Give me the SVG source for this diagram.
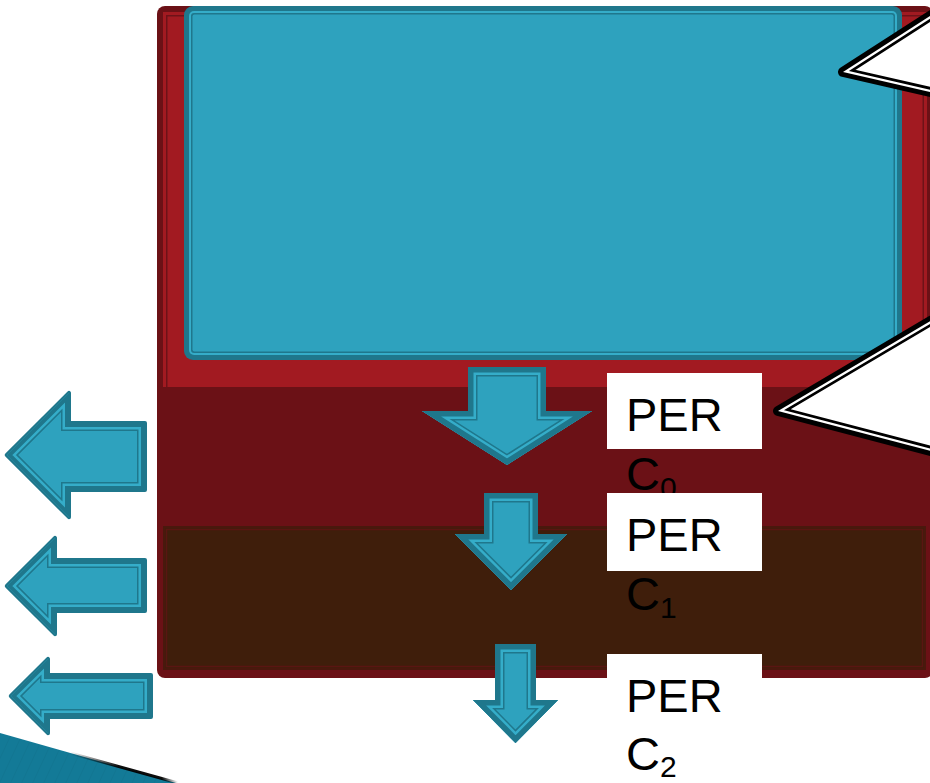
<svg xmlns="http://www.w3.org/2000/svg" xmlns:xlink="http://www.w3.org/1999/xlink" width="930" height="783" viewBox="0 0 930 783">
  <style>
    .lbl { fill: #ffffff; }
    .txt { font-family: "Liberation Sans", Arial, sans-serif; font-size: 47px; fill: #000000; }
    .sub { font-size: 30px; }
    .afill { fill: #2EA2BE; }
    .bandA { fill: none; stroke: #1F778C; stroke-linejoin: miter; }
    .bandL { fill: none; stroke: #35ADC9; stroke-linejoin: miter; }
    .edge { fill: #1F778C; stroke: #1F778C; stroke-width: 4; stroke-linejoin: round; }
    .callout { fill: #ffffff; stroke: #000000; stroke-width: 10; stroke-linejoin: round; }
    .calloutIn { fill: none; stroke: #ffffff; stroke-width: 4.5; stroke-linejoin: round; }
  </style>
  <defs>
    <!-- arrow outlines -->
    <path id="dn1" d="M468,367 L546,367 L546,411 L592,411 L507,465 L422,411 L468,411 Z"/>
    <path id="dn2" d="M484,493 L538,493 L538,534 L567,534 L511,590 L455,534 L484,534 Z"/>
    <path id="dn3" d="M495,644 L536,644 L536,700 L558,700 L515.5,743 L473,700 L495,700 Z"/>
    <path id="lf1" d="M6.8,455 L69,392.8 L69,423 L145,423 L145,490 L69,490 L69,517.2 Z"/>
    <path id="lf2" d="M6.8,586 L55,537.8 L55,560 L145,560 L145,611 L55,611 L55,634.2 Z"/>
    <path id="lf3" d="M10.8,696 L48,658.8 L48,675 L151,675 L151,717 L48,717 L48,733.2 Z"/>
    <!-- callout outlines -->
    <path id="co1" d="M843,72 L1000,-29 L1000,108 Z"/>
    <path id="co2" d="M778,411 L1000,280 L1000,469 Z"/>
    <clipPath id="cdn1"><use xlink:href="#dn1"/></clipPath>
    <clipPath id="cdn2"><use xlink:href="#dn2"/></clipPath>
    <clipPath id="cdn3"><use xlink:href="#dn3"/></clipPath>
    <clipPath id="clf1"><use xlink:href="#lf1"/></clipPath>
    <clipPath id="clf2"><use xlink:href="#lf2"/></clipPath>
    <clipPath id="clf3"><use xlink:href="#lf3"/></clipPath>
    <clipPath id="cco1"><use xlink:href="#co1"/></clipPath>
    <clipPath id="cco2"><use xlink:href="#co2"/></clipPath>
    <linearGradient id="tealGrad" x1="0" y1="0" x2="1" y2="1">
      <stop offset="0" stop-color="#1A84A0"/>
      <stop offset="1" stop-color="#0C6580"/>
    </linearGradient>
    <pattern id="stripes" width="10" height="10" patternUnits="userSpaceOnUse" patternTransform="rotate(25)">
      <rect width="10" height="10" fill="#137A97"/>
      <line x1="0" y1="0" x2="0" y2="10" stroke="#0E6A86" stroke-width="1.2" opacity="0.5"/>
    </pattern>
    <linearGradient id="shadowGrad" x1="0" y1="0" x2="1" y2="0">
      <stop offset="0" stop-color="#000" stop-opacity="0"/>
      <stop offset="0.45" stop-color="#000" stop-opacity="0.95"/>
      <stop offset="0.85" stop-color="#000" stop-opacity="0.95"/>
      <stop offset="1" stop-color="#000" stop-opacity="0"/>
    </linearGradient>
  </defs>

  <rect width="930" height="783" fill="#ffffff"/>

  <!-- corner decoration -->
  <g id="corner-band">
    <polygon points="0,733 176,783 0,783" fill="url(#stripes)"/>
    <line x1="70" y1="753" x2="178" y2="783" stroke="url(#shadowGrad)" stroke-width="3"/>
  </g>

  <!-- outer red panel -->
  <g id="red-panel">
    <rect x="157" y="6" width="776" height="672" rx="8" fill="#6B1116"/>
    <rect x="163" y="12" width="764" height="375" fill="#A21A21"/>
    <rect x="166" y="15" width="758" height="372" fill="#6E1218"/>
    <rect x="167.5" y="16.5" width="755" height="370.5" fill="#A21A21"/>
  </g>

  <!-- blue top box -->
  <g id="blue-box">
    <rect x="184" y="6" width="718" height="354" rx="9" fill="#1F778C"/>
    <rect x="189" y="11" width="708" height="344" rx="5" fill="#35ADC9"/>
    <rect x="191" y="13" width="704" height="340" rx="3" fill="#1F778C"/>
    <rect x="192.5" y="14.5" width="701" height="337" rx="2" fill="#2EA2BE"/>
  </g>

  <!-- brown lower box -->
  <g id="brown-box">
    <rect x="163" y="526" width="763" height="144" fill="#3F1E0B"/>
    <rect x="164" y="527" width="761" height="142" fill="none" stroke="#4A180D" stroke-width="2"/>
    <rect x="166.5" y="529.5" width="756" height="137" fill="none" stroke="#5A1512" stroke-width="1.5"/>
  </g>

  <!-- block arrows -->
  <g id="arrows">
    <g id="arrow-down-1">
      <use xlink:href="#dn1" class="afill"/>
      <g clip-path="url(#cdn1)">
        <use xlink:href="#dn1" class="bandA" stroke-width="19"/>
        <use xlink:href="#dn1" class="bandL" stroke-width="16"/>
        <use xlink:href="#dn1" class="bandA" stroke-width="11"/>
      </g>
    </g>
    <g id="arrow-down-2">
      <use xlink:href="#dn2" class="afill"/>
      <g clip-path="url(#cdn2)">
        <use xlink:href="#dn2" class="bandA" stroke-width="19"/>
        <use xlink:href="#dn2" class="bandL" stroke-width="16"/>
        <use xlink:href="#dn2" class="bandA" stroke-width="11"/>
      </g>
    </g>
    <g id="arrow-down-3">
      <use xlink:href="#dn3" class="afill"/>
      <g clip-path="url(#cdn3)">
        <use xlink:href="#dn3" class="bandA" stroke-width="19"/>
        <use xlink:href="#dn3" class="bandL" stroke-width="16"/>
        <use xlink:href="#dn3" class="bandA" stroke-width="11"/>
      </g>
    </g>
    <g id="arrow-left-1">
      <use xlink:href="#lf1" class="edge"/>
      <use xlink:href="#lf1" class="afill"/>
      <g clip-path="url(#clf1)">
        <use xlink:href="#lf1" class="bandA" stroke-width="16"/>
        <use xlink:href="#lf1" class="bandL" stroke-width="13"/>
        <use xlink:href="#lf1" class="bandA" stroke-width="8"/>
      </g>
    </g>
    <g id="arrow-left-2">
      <use xlink:href="#lf2" class="edge"/>
      <use xlink:href="#lf2" class="afill"/>
      <g clip-path="url(#clf2)">
        <use xlink:href="#lf2" class="bandA" stroke-width="16"/>
        <use xlink:href="#lf2" class="bandL" stroke-width="13"/>
        <use xlink:href="#lf2" class="bandA" stroke-width="8"/>
      </g>
    </g>
    <g id="arrow-left-3">
      <use xlink:href="#lf3" class="edge"/>
      <use xlink:href="#lf3" class="afill"/>
      <g clip-path="url(#clf3)">
        <use xlink:href="#lf3" class="bandA" stroke-width="16"/>
        <use xlink:href="#lf3" class="bandL" stroke-width="13"/>
        <use xlink:href="#lf3" class="bandA" stroke-width="8"/>
      </g>
    </g>
  </g>

  <!-- callout pointers -->
  <g id="callout-1">
    <use xlink:href="#co1" class="callout"/>
    <g clip-path="url(#cco1)"><use xlink:href="#co1" class="calloutIn"/></g>
  </g>
  <g id="callout-2">
    <use xlink:href="#co2" class="callout"/>
    <g clip-path="url(#cco2)"><use xlink:href="#co2" class="calloutIn"/></g>
  </g>

  <!-- labels -->
  <g id="label-perc0">
    <rect class="lbl" x="607" y="373" width="155" height="76"/>
    <text class="txt" x="626" y="431">PER</text>
    <text class="txt" x="626" y="490">C<tspan class="sub" dy="8">0</tspan></text>
  </g>
  <g id="label-perc1">
    <rect class="lbl" x="607" y="493" width="155" height="78"/>
    <text class="txt" x="626" y="551">PER</text>
    <text class="txt" x="626" y="610">C<tspan class="sub" dy="8">1</tspan></text>
  </g>
  <g id="label-perc2">
    <rect class="lbl" x="607" y="654" width="155" height="78"/>
    <text class="txt" x="626" y="712">PER</text>
    <text class="txt" x="626" y="770">C<tspan class="sub" dy="7">2</tspan></text>
  </g>
</svg>
